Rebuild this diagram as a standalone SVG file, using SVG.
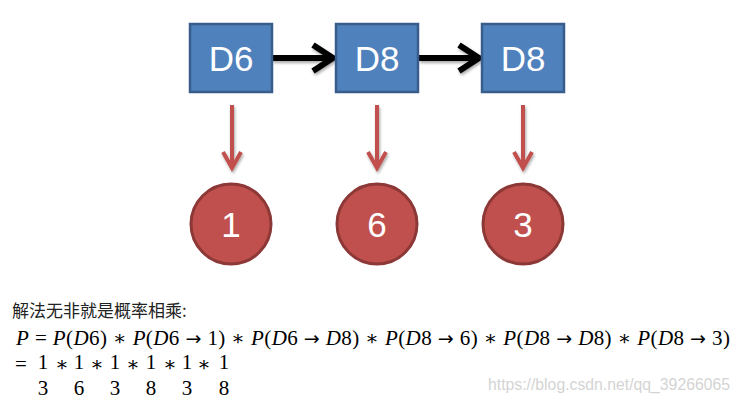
<svg xmlns="http://www.w3.org/2000/svg" width="741" height="404" viewBox="0 0 741 404">
<defs>
<filter id="sh" x="-20%" y="-40%" width="140%" height="180%">
<feGaussianBlur in="SourceAlpha" stdDeviation="1.5"/>
<feOffset dx="1" dy="2" result="b"/>
<feComponentTransfer><feFuncA type="linear" slope="0.35"/></feComponentTransfer>
<feMerge><feMergeNode/><feMergeNode in="SourceGraphic"/></feMerge>
</filter>
</defs>
<style>
.box{fill:#4F81BD;stroke:#385D8A;stroke-width:2.5}
.circ{fill:#C0504D;stroke:#8C3836;stroke-width:3}
.lbl{font-family:"Liberation Sans",Arial,sans-serif;font-size:35px;fill:#fff;text-anchor:middle}
.blk{stroke:#000;stroke-width:6;fill:none;stroke-linecap:butt;stroke-linejoin:miter}
.red{stroke:#C0504D;stroke-width:4;fill:none;stroke-linejoin:miter}
.math{font-family:"Liberation Serif","Times New Roman","DejaVu Serif",serif;font-size:21px;fill:#000}
.frac{font-family:"Liberation Serif","Times New Roman",serif;font-size:21px;fill:#000;text-anchor:middle}
.it{font-style:italic}
.ar{font-family:"DejaVu Sans",sans-serif;font-size:19px}
.ast{font-family:"DejaVu Serif",serif;font-size:20px}
</style>
<rect width="741" height="404" fill="#fff"/>
<g id="connectors">
<g filter="url(#sh)">
<line class="blk" x1="272" y1="58" x2="330" y2="58"/>
<polyline class="blk" points="313,45 333,58 313,71"/>
<line class="blk" x1="419" y1="58" x2="476" y2="58"/>
<polyline class="blk" points="459,45 479,58 459,71"/>
</g>
<g filter="url(#sh)">
<line class="red" x1="232" y1="105" x2="232" y2="167"/>
<polyline class="red" points="223,152 232,168 241,152"/>
<line class="red" x1="377" y1="105" x2="377" y2="167"/>
<polyline class="red" points="368,152 377,168 386,152"/>
<line class="red" x1="523" y1="105" x2="523" y2="167"/>
<polyline class="red" points="514,152 523,168 532,152"/>
</g>
</g>
<g id="d6"><rect class="box" x="190" y="24" width="82" height="68"/><text class="lbl" x="231" y="71">D6</text></g>
<g id="d8a"><rect class="box" x="336" y="24" width="82" height="68"/><text class="lbl" x="377" y="71">D8</text></g>
<g id="d8b"><rect class="box" x="482" y="24" width="82" height="68"/><text class="lbl" x="523" y="71">D8</text></g>
<g id="o1"><circle class="circ" cx="231" cy="224" r="40"/><text class="lbl" x="231" y="236.5">1</text></g>
<g id="o6"><circle class="circ" cx="377" cy="224" r="40"/><text class="lbl" x="377" y="236.5">6</text></g>
<g id="o3"><circle class="circ" cx="523" cy="224" r="40"/><text class="lbl" x="523" y="236.5">3</text></g>
<text x="12" y="317" font-family="'Noto Sans CJK SC',sans-serif" font-size="17" fill="#222">解法无非就是概率相乘:</text>
<text class="math" x="16" y="345" textLength="714" lengthAdjust="spacing"><tspan class="it">P</tspan> = <tspan class="it">P</tspan>(<tspan class="it">D</tspan>6) <tspan class="ast">∗</tspan> <tspan class="it">P</tspan>(<tspan class="it">D</tspan>6 <tspan class="ar">→</tspan> 1) <tspan class="ast">∗</tspan> <tspan class="it">P</tspan>(<tspan class="it">D</tspan>6 <tspan class="ar">→</tspan> <tspan class="it">D</tspan>8) <tspan class="ast">∗</tspan> <tspan class="it">P</tspan>(<tspan class="it">D</tspan>8 <tspan class="ar">→</tspan> 6) <tspan class="ast">∗</tspan> <tspan class="it">P</tspan>(<tspan class="it">D</tspan>8 <tspan class="ar">→</tspan> <tspan class="it">D</tspan>8) <tspan class="ast">∗</tspan> <tspan class="it">P</tspan>(<tspan class="it">D</tspan>8 <tspan class="ar">→</tspan> 3)</text>
<text class="frac" x="21" y="371">=</text>
<g class="ast" text-anchor="middle">
<text x="62" y="371">∗</text><text x="97" y="371">∗</text><text x="133" y="371">∗</text><text x="170" y="371">∗</text><text x="204" y="371">∗</text>
</g>
<text class="frac" x="43" y="369">1</text><text class="frac" x="43" y="395">3</text>
<text class="frac" x="79" y="369">1</text><text class="frac" x="79" y="395">6</text>
<text class="frac" x="115" y="369">1</text><text class="frac" x="115" y="395">3</text>
<text class="frac" x="151" y="369">1</text><text class="frac" x="151" y="395">8</text>
<text class="frac" x="187" y="369">1</text><text class="frac" x="187" y="395">3</text>
<text class="frac" x="224" y="369">1</text><text class="frac" x="224" y="395">8</text>
<text x="488" y="390" font-family="'Liberation Sans',Arial,sans-serif" font-size="16" fill="#d4d4d4" textLength="242" lengthAdjust="spacingAndGlyphs">https://blog.csdn.net/qq_39266065</text>
</svg>
